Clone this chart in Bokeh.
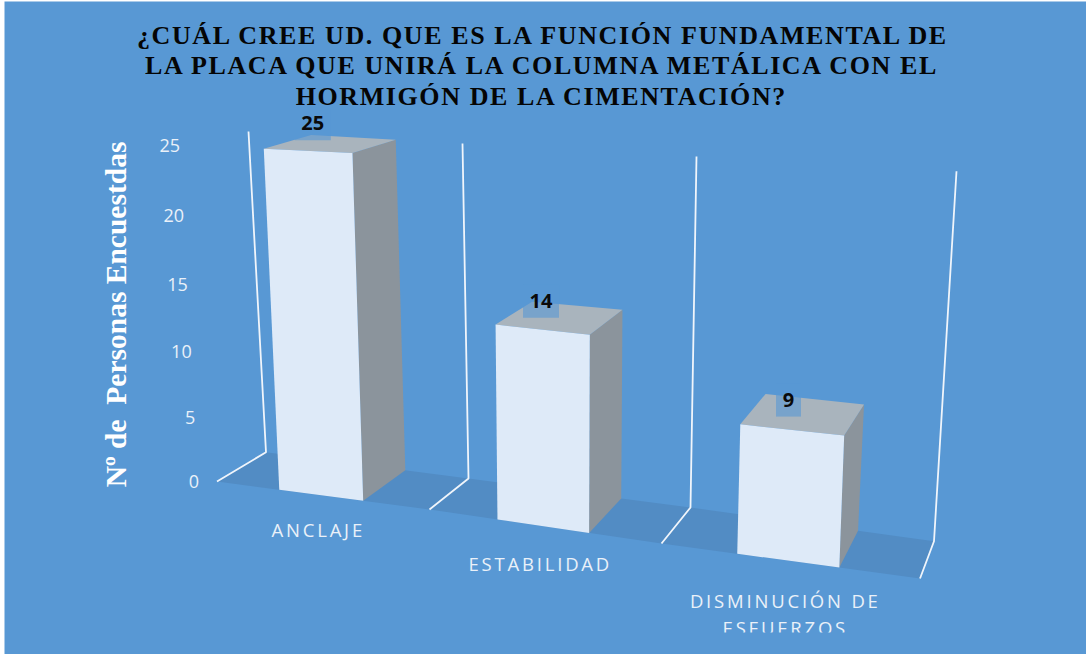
from bokeh.embed import file_html
from bokeh.layouts import column
from bokeh.models import Range1d
from bokeh.plotting import figure
from bokeh.resources import INLINE
from bokeh.core.properties import value
import numpy as np

# Survey results
title_lines = [
    "¿CUÁL CREE UD. QUE ES LA FUNCIÓN FUNDAMENTAL DE",
    "LA PLACA QUE UNIRÁ LA COLUMNA METÁLICA CON EL",
    "HORMIGÓN DE LA CIMENTACIÓN?",
]
y_title = "Nº de\u00a0\u00a0Personas Encuestdas"
categories = ["ANCLAJE", "ESTABILIDAD", "DISMINUCIÓN DE\nESFUERZOS"]
counts = [25, 14, 9]
y_ticks = [0, 5, 10, 15, 20, 25]
axis_max = 25

# Oblique projection of the 3D plot box onto the page, one knot per category boundary
WIDTH, HEIGHT = 1086, 654
KNOTS = [0, 1, 2, 3]
FRONT_X, FRONT_Y = [216.5, 429, 661, 919.5], [481, 509, 543, 578]
BACK_X, BACK_Y = [265.5, 468, 690, 933.5], [451.7, 478, 507, 540.7]
FRONT_RISE, FRONT_LEAN = [336, 353, 368, 387], [-19, -7, 5, 18]
BACK_RISE, BACK_LEAN = [320.7, 335, 351, 370], [-17.5, -6, 6, 22.5]
VERTICAL_PERSPECTIVE = 0.058
BAR_SPAN = (0.293, 0.688)
TITLE_TRACKING = 1.6
CATEGORY_TRACKING = 2.8


def height_fraction(v):
    t = v / axis_max
    return t * (1 - VERTICAL_PERSPECTIVE) / (1 - VERTICAL_PERSPECTIVE * t)


def project(u, depth, v=0.0):
    """Page position of category position u, depth 0 (front) to 1 (back), and value v."""
    f = height_fraction(v)
    fx = np.interp(u, KNOTS, FRONT_X) + f * np.interp(u, KNOTS, FRONT_LEAN)
    fy = np.interp(u, KNOTS, FRONT_Y) - f * np.interp(u, KNOTS, FRONT_RISE)
    bx = np.interp(u, KNOTS, BACK_X) + f * np.interp(u, KNOTS, BACK_LEAN)
    by = np.interp(u, KNOTS, BACK_Y) - f * np.interp(u, KNOTS, BACK_RISE)
    return float(fx + (bx - fx) * depth), float(fy + (by - fy) * depth)


def polygon(points):
    xs, ys = zip(*points)
    return list(xs), list(ys)


def tracked_centre(x, text, tracking):
    # the renderer anchors tracked text as if it had no tracking, so pull it back by half the extra run
    return x - len(text) * tracking / 2


def layer(**style):
    fig = figure(width=WIDTH, height=HEIGHT, x_range=Range1d(0, WIDTH), y_range=Range1d(HEIGHT, 0),
                 output_backend="svg", toolbar_location=None, min_border=0,
                 x_axis_location=None, y_axis_location=None, outline_line_color=None,
                 tools="", **style)
    fig.grid.visible = False
    return fig


def tracked_layer(tracking):
    # transparent sheet stacked over the chart; letter-spacing is inherited by all its text
    return layer(background_fill_color=None, border_fill_color=None,
                 styles={"letter-spacing": f"{tracking}px"}, margin=(-HEIGHT, 0, 0, 0))


BG = "#5898d4"
FLOOR = "#528cc4"
FRONT = "#deeaf8"
SIDE = "#8b949c"
TOP = "#a9b4bd"
WALL = "#f0f5fb"

p = layer(background_fill_color="white", border_fill_color="white")
p.quad(left=[4], right=[WIDTH], top=[1], bottom=[HEIGHT], fill_color=BG, line_color=None)

# floor
xs, ys = polygon([project(0, 0), project(0, 1), project(1, 1), project(2, 1), project(3, 1),
                  project(3, 0), project(2, 0), project(1, 0)])
p.patch(xs, ys, fill_color=FLOOR, line_color=None)

# back walls with their floor divisions
for k in KNOTS:
    xs, ys = polygon([project(k, 0), project(k, 1), project(k, 1, axis_max)])
    p.line(xs, ys, line_color=WALL, line_width=1.8)

# bars
for i, v in enumerate(counts):
    u0, u1 = i + BAR_SPAN[0], i + BAR_SPAN[1]
    side = [project(u1, 0), project(u1, 1), project(u1, 1, v), project(u1, 0, v)]
    front = [project(u0, 0), project(u1, 0), project(u1, 0, v), project(u0, 0, v)]
    top = [project(u0, 0, v), project(u1, 0, v), project(u1, 1, v), project(u0, 1, v)]
    for pts, colour in ((side, SIDE), (top, TOP), (front, FRONT)):
        xs, ys = polygon(pts)
        p.patch(xs, ys, fill_color=colour, line_color=None)

# value labels sitting on a translucent box above each bar
LABEL_SHIFT = [(-18, -21), (-19, -17), (-15, -15)]
BOX_WIDTH = [36, 36, 25]
for i, v in enumerate(counts):
    u = i + sum(BAR_SPAN) / 2
    cx, cy = project(u, 0.5, v)
    lx, ly = cx + LABEL_SHIFT[i][0], cy + LABEL_SHIFT[i][1]
    half = BOX_WIDTH[i] / 2
    p.quad(left=[lx - half], right=[lx + half], top=[ly - 16], bottom=[ly + 17],
           fill_color=BG, fill_alpha=0.6, line_color=None)
    p.text([lx], [ly], text=[str(v)], text_font=value("Open Sans"), text_font_style="bold",
           text_font_size="20px", text_color="#0a0a0a", text_align="center", text_baseline="middle")

# value axis tick labels follow the front-left edge
for t in y_ticks:
    x, y = project(0, 0, t)
    p.text([x - 18], [y], text=[str(t)], text_font=value("Open Sans"), text_font_size="18px",
           text_color="#eaf1f9", text_align="right", text_baseline="middle")

p.text([115.5], [314], text=[y_title], angle=np.pi / 2, text_font=value("Liberation Serif"),
       text_font_style="bold", text_font_size="29.5px", text_color="white",
       text_align="center", text_baseline="middle")

# title
t_layer = tracked_layer(TITLE_TRACKING)
for line, x, y in zip(title_lines, [544, 544.5, 541.5], [35, 65, 96]):
    t_layer.text([tracked_centre(x, line, TITLE_TRACKING)], [y], text=[line],
                 text_font=value("Liberation Serif"), text_font_style="bold", text_font_size="26px",
                 text_color="#050505", text_align="center", text_baseline="middle")

# category names
c_layer = tracked_layer(CATEGORY_TRACKING)
for i, name in enumerate(categories):
    x, y = project(i + sum(BAR_SPAN) / 2, 0)
    for row, part in enumerate(name.split("\n")):
        c_layer.text([tracked_centre(x - 3, part, CATEGORY_TRACKING)], [y + 34 + 3 * i + 26.5 * row],
                     text=[part], text_font=value("Open Sans"), text_font_size="18.5px",
                     text_color="#eaf1f9", text_align="center", text_baseline="middle")

# the lower edge of the last category name is cut off by the plot frame
c_layer.quad(left=[640], right=[940], top=[632], bottom=[HEIGHT], fill_color=BG, line_color=None)

page = column(p, t_layer, c_layer, margin=0)
open("out.html", "w").write(file_html(page, INLINE))
